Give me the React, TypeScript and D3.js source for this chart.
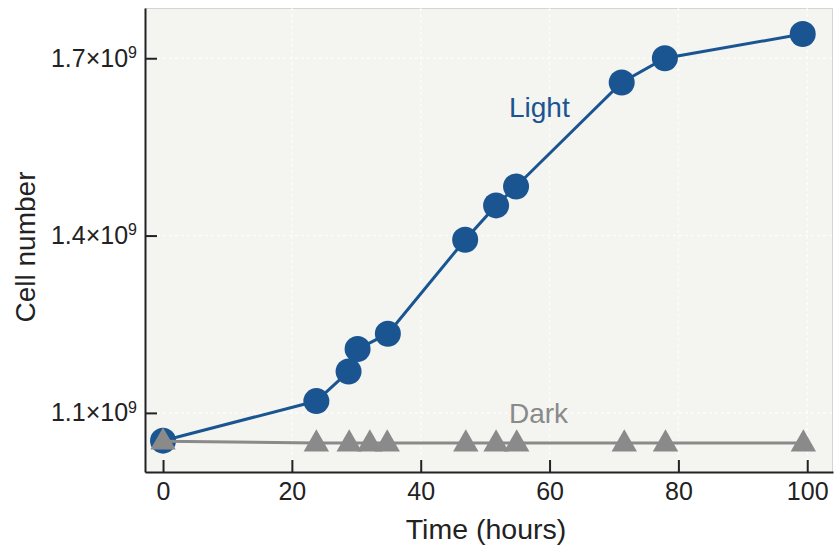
import React, { useEffect, useRef } from 'react'
import * as d3 from 'd3'

// values
const lightHours = [0, 23.8, 28.8, 30.2, 34.9, 46.9, 51.7, 54.8, 71.2, 77.9, 99.3]
const lightCells = [1.053e9, 1.12e9, 1.17e9, 1.208e9, 1.234e9, 1.393e9, 1.451e9, 1.483e9, 1.659e9, 1.7e9, 1.741e9]
const darkHours = [0, 23.8, 28.9, 32.1, 34.8, 47.0, 51.7, 54.9, 71.6, 78.0, 99.4]
const darkCells = [1.052e9, 1.049e9, 1.049e9, 1.049e9, 1.049e9, 1.049e9, 1.049e9, 1.049e9, 1.049e9, 1.049e9, 1.049e9]
const xTicks = [0, 20, 40, 60, 80, 100]
const yTicks = [1.1e9, 1.4e9, 1.7e9]
const yTickLabels = ['1.1×10', '1.4×10', '1.7×10']

const App = () => {
    const ref = useRef<SVGSVGElement>(null)

    useEffect(() => {
        drawChart()
    }, [])

    const drawChart = () => {
        const width = 835
        const height = 548
        const left = 145
        const right = 833
        const top = 8
        const bottom = 472
        const blue = '#1a5592'
        const grey = '#8a8a8a'
        const font = 'Liberation Sans, Arial, sans-serif'

        const svg = d3.select(ref.current)
        svg.selectAll('*').remove()
        svg.attr('width', width).attr('height', height)

        const xScale = d3.scaleLinear().domain([-2.8, 104]).range([left, right])
        const yScale = d3.scaleLinear().domain([1.0e9, 1.785e9]).range([bottom, top])

        svg.append('rect')
            .attr('x', left)
            .attr('y', top)
            .attr('width', right - left)
            .attr('height', bottom - top)
            .attr('fill', '#f4f4f0')

        // faint border on top and right
        svg.append('path')
            .attr('d', `M${left},${top + 0.5}H${right - 0.5}V${bottom}`)
            .attr('fill', 'none')
            .attr('stroke', '#d4d4d0')
            .attr('stroke-width', 1)

        // dotted white grid, very faint
        svg.append('g')
            .selectAll('line')
            .data(xTicks.filter(d => d > 0))
            .enter()
            .append('line')
            .attr('x1', d => xScale(d))
            .attr('x2', d => xScale(d))
            .attr('y1', top)
            .attr('y2', bottom)
            .attr('stroke', '#ffffff')
            .attr('stroke-opacity', 0.7)
            .attr('stroke-width', 1.5)
            .attr('stroke-dasharray', '3,3')
        svg.append('g')
            .selectAll('line')
            .data(yTicks)
            .enter()
            .append('line')
            .attr('x1', left)
            .attr('x2', right)
            .attr('y1', d => yScale(d))
            .attr('y2', d => yScale(d))
            .attr('stroke', '#ffffff')
            .attr('stroke-opacity', 0.7)
            .attr('stroke-width', 1.5)
            .attr('stroke-dasharray', '3,3')

        const xAxis = d3.axisBottom(xScale)
            .tickValues(xTicks)
            .tickSizeInner(-12)
            .tickSizeOuter(0)
            .tickPadding(10)
        const yAxis = d3.axisLeft(yScale)
            .tickValues(yTicks)
            .tickSizeInner(-12)
            .tickSizeOuter(0)
            .tickPadding(8)

        const gx = svg.append('g')
            .attr('transform', `translate(0, ${bottom})`)
            .call(xAxis)
        const gy = svg.append('g')
            .attr('transform', `translate(${left}, 0)`)
            .call(yAxis)

        for (const g of [gx, gy]) {
            g.select('.domain').attr('stroke', '#222').attr('stroke-width', 2)
            g.selectAll('.tick line').attr('stroke', '#222').attr('stroke-width', 2)
            g.selectAll('.tick text')
                .attr('fill', '#222')
                .style('font-family', font)
                .style('font-size', '25px')
        }

        gy.selectAll<SVGTextElement, number>('.tick text')
            .text(null)
            .each(function (d) {
                const t = d3.select(this)
                t.append('tspan').text(yTickLabels[yTicks.indexOf(d)])
                t.append('tspan').text('9').attr('dy', '-0.55em').style('font-size', '16px')
            })

        const lightData = lightHours.map((h, i) => [h, lightCells[i]] as [number, number])
        const darkData = darkHours.map((h, i) => [h, darkCells[i]] as [number, number])

        const line = d3.line<[number, number]>()
            .x(d => xScale(d[0]))
            .y(d => yScale(d[1]))

        svg.append('path')
            .datum(lightData)
            .attr('d', line)
            .attr('fill', 'none')
            .attr('stroke', blue)
            .attr('stroke-width', 3)

        svg.append('g')
            .selectAll('circle')
            .data(lightData)
            .enter()
            .append('circle')
            .attr('cx', d => xScale(d[0]))
            .attr('cy', d => yScale(d[1]))
            .attr('r', 13)
            .attr('fill', blue)

        svg.append('path')
            .datum(darkData)
            .attr('d', line)
            .attr('fill', 'none')
            .attr('stroke', grey)
            .attr('stroke-width', 3)

        const tri = d3.symbol().type(d3.symbolTriangle).size(280)
        svg.append('g')
            .selectAll('path')
            .data(darkData)
            .enter()
            .append('path')
            .attr('d', tri)
            .attr('transform', d => `translate(${xScale(d[0])}, ${yScale(d[1]) + 1})`)
            .attr('fill', grey)

        svg.append('text')
            .attr('x', 509)
            .attr('y', 117)
            .attr('fill', blue)
            .style('font-family', font)
            .style('font-size', '28px')
            .text('Light')

        svg.append('text')
            .attr('x', 509)
            .attr('y', 423)
            .attr('fill', grey)
            .style('font-family', font)
            .style('font-size', '28px')
            .text('Dark')

        svg.append('text')
            .attr('x', 486)
            .attr('y', 539)
            .attr('text-anchor', 'middle')
            .attr('fill', '#222')
            .style('font-family', font)
            .style('font-size', '28.5px')
            .text('Time (hours)')

        svg.append('text')
            .attr('transform', `translate(35, 247) rotate(-90)`)
            .attr('text-anchor', 'middle')
            .attr('fill', '#222')
            .style('font-family', font)
            .style('font-size', '28px')
            .text('Cell number')
    }

    return (
        <div id="cellChart">
            <svg ref={ref} style={{ position: 'absolute', left: 0, top: 0 }}></svg>
        </div>
    )
}

export default App
